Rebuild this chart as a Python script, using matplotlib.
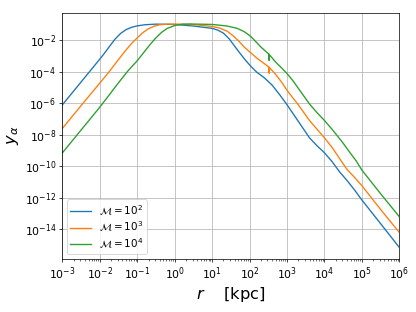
import numpy as np
import matplotlib
matplotlib.use('Agg')
import matplotlib.pyplot as plt

logr_m2 = [-3.0, -2.5, -2.0, -1.9, -1.75, -1.6, -1.45, -1.3, -1.15, -1.0, -0.8, -0.5,
           0.0, 0.5, 1.0, 1.15, 1.3, 1.45, 1.6, 1.75, 1.9, 2.05, 2.2, 2.4, 2.6, 2.8,
           3.0, 3.2, 3.4, 3.6, 3.8, 4.0, 4.2, 4.4, 4.6, 4.8, 5.0, 5.5, 6.0]
logy_m2 = [-6.10, -4.65, -3.20, -2.90, -2.42, -1.95, -1.58, -1.33, -1.18, -1.09, -1.02, -0.98,
           -1.00, -1.10, -1.25, -1.36, -1.55, -1.90, -2.38, -2.85, -3.30, -3.70, -4.05, -4.40,
           -4.85, -5.45, -6.10, -6.80, -7.50, -8.20, -8.70, -9.15, -9.70, -10.35, -10.90,
           -11.50, -12.15, -13.65, -15.16]

logr_m3 = [-3.0, -2.5, -2.0, -1.75, -1.5, -1.3, -1.15, -1.0, -0.85, -0.7, -0.55, -0.4,
           -0.2, 0.2, 0.6, 1.0, 1.2, 1.4, 1.55, 1.7, 1.85, 2.0, 2.2, 2.4, 2.52, 2.521,
           2.522, 2.7, 2.85, 3.0, 3.15, 3.3, 3.45, 3.6, 3.8, 4.0, 4.2, 4.4, 4.6, 4.8,
           5.0, 5.5, 6.0]
logy_m3 = [-7.60, -6.15, -4.72, -4.00, -3.22, -2.62, -2.20, -1.85, -1.52, -1.27, -1.11, -1.02,
           -0.98, -0.98, -1.03, -1.13, -1.23, -1.43, -1.70, -2.03, -2.42, -2.74, -3.15, -3.50,
           -3.72, -4.10, -3.72, -4.18, -4.65, -5.18, -5.65, -6.10, -6.60, -7.10, -7.65, -8.20,
           -8.80, -9.50, -10.20, -10.70, -11.24, -12.75, -14.21]

logr_m4 = [-3.0, -2.5, -2.0, -1.5, -1.25, -1.0, -0.8, -0.65, -0.5, -0.35, -0.2, 0.0,
           0.2, 0.4, 1.0, 1.4, 1.67, 1.85, 2.0, 2.15, 2.3, 2.52, 2.521, 2.522, 2.7, 2.85,
           3.0, 3.15, 3.3, 3.45, 3.6, 3.8, 4.0, 4.2, 4.48, 4.7, 4.84, 5.0, 5.5, 6.0]
logy_m4 = [-9.15, -7.70, -6.25, -4.70, -3.95, -3.30, -2.70, -2.25, -1.85, -1.50, -1.25, -1.07,
           -0.99, -0.97, -1.00, -1.10, -1.25, -1.45, -1.70, -2.05, -2.43, -2.90, -3.28, -2.90,
           -3.40, -3.75, -4.12, -4.55, -5.05, -5.55, -6.05, -6.60, -7.10, -7.65, -8.48, -9.20,
           -9.64, -10.25, -11.75, -13.21]

labels = [r'$\mathcal{M}=10^2$', r'$\mathcal{M}=10^3$', r'$\mathcal{M}=10^4$']

def main():

  fig = plt.figure(figsize=(6.4, 4.8), dpi=65)
  ax = fig.add_axes([0.150, 0.171, 0.810, 0.788])

  curves = [(logr_m2, logy_m2), (logr_m3, logy_m3), (logr_m4, logy_m4)]
  for (lr, ly), lab in zip(curves, labels):
    ax.plot(10.0**np.array(lr), 10.0**np.array(ly), label=lab, lw=1.5)

  ax.set_xscale('log')
  ax.set_yscale('log')
  ax.set_xlim(1e-3, 1e6)
  ax.set_xticks(10.0**np.arange(-3, 7))
  ax.grid(True, which='major', color='#b0b0b0', lw=0.8)
  ax.tick_params(labelsize=12)
  ax.set_xlabel(r'$r$    [kpc]', fontsize=18)
  ax.set_ylabel(r'$y_\alpha$', fontsize=18)
  ax.legend(loc='lower left', fontsize=11.5, labelspacing=0.2, borderpad=0.35,
            handlelength=2.0, borderaxespad=0.4)

  fig.savefig('out.png', dpi=65)

if __name__ == "__main__":
  main()
